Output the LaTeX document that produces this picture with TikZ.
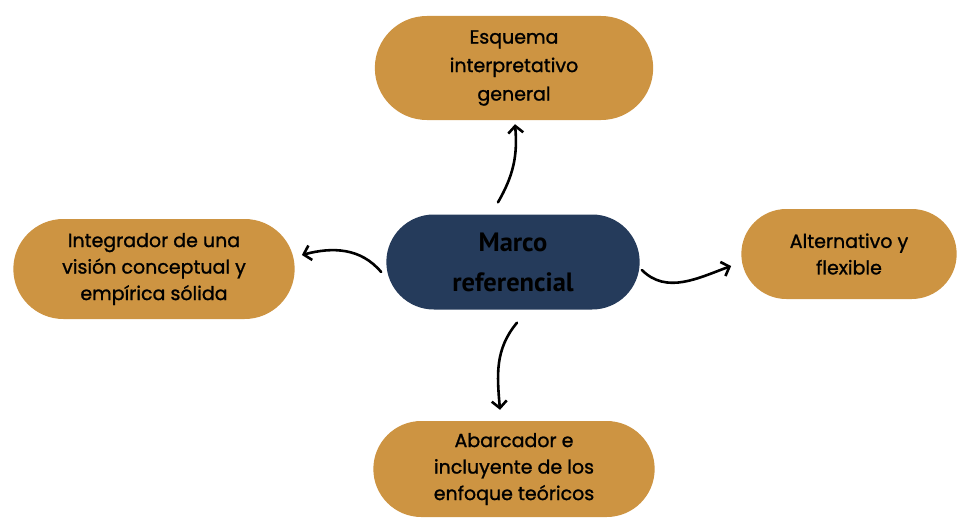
\documentclass[tikz,border=0pt]{standalone}
\usepackage{fontspec}
\setmainfont{Poppins}[FakeBold=1.1]
\newfontfamily\marcofont[FakeStretch=1.0]{PT Sans Bold}
\usetikzlibrary{positioning, calc, arrows.meta, shapes.misc}

\definecolor{ocre}{HTML}{CD9442}
\definecolor{marino}{HTML}{253B5B}

\begin{document}
\begin{tikzpicture}[
    x=1pt, y=1pt,
    idea/.style={rounded rectangle, fill=ocre, minimum width=288pt, minimum height=100pt, align=center, text=black, font=\fontsize{19}{26.5}\selectfont},
    centro/.style={rounded rectangle, fill=marino, minimum width=260pt, minimum height=95pt, align=center, text=black, font=\marcofont\fontsize{26.5}{40}\selectfont},
    arrow/.style={-{Straight Barb[length=7pt, width=15pt]}, line width=2.6pt, line cap=round}
]
    \useasboundingbox (0,0) rectangle (963,-519);

    % Central idea
    \node[centro] (marco) at (513,-262) {Marco\\referencial};

    % Surrounding ideas
    \node[idea, minimum width=285pt, minimum height=104pt, font=\fontsize{19}{28.5}\selectfont] (esquema) at (514,-68) {Esquema\\interpretativo\\general};
    \node[idea] (integrador) at (154,-269) {Integrador de una\\visión conceptual y\\empírica sólida};
    \node[idea, minimum width=222pt, minimum height=90pt] (alternativo) at (849,-254) {Alternativo y\\flexible};
    \node[idea, minimum height=96pt] (abarcador) at (514,-469) {Abarcador e\\incluyente de los\\enfoque teóricos};

    % Curved connections
    \draw[arrow] ([shift={(-15,12)}]marco.north) to[out=60, in=-85] ([shift={(1,-4)}]esquema.south);
    \draw[arrow] ([shift={(-5,-10)}]marco.west) to[out=130, in=15] ([shift={(7,14)}]integrador.east);
    \draw[arrow] ([shift={(2,-8)}]marco.east) to[out=-45, in=-160] ([shift={(-10,-12)}]alternativo.west);
    \draw[arrow] ([shift={(4,-13)}]marco.south) to[out=-130, in=95] ([shift={(-14,11)}]abarcador.north);

\end{tikzpicture}
\end{document}
